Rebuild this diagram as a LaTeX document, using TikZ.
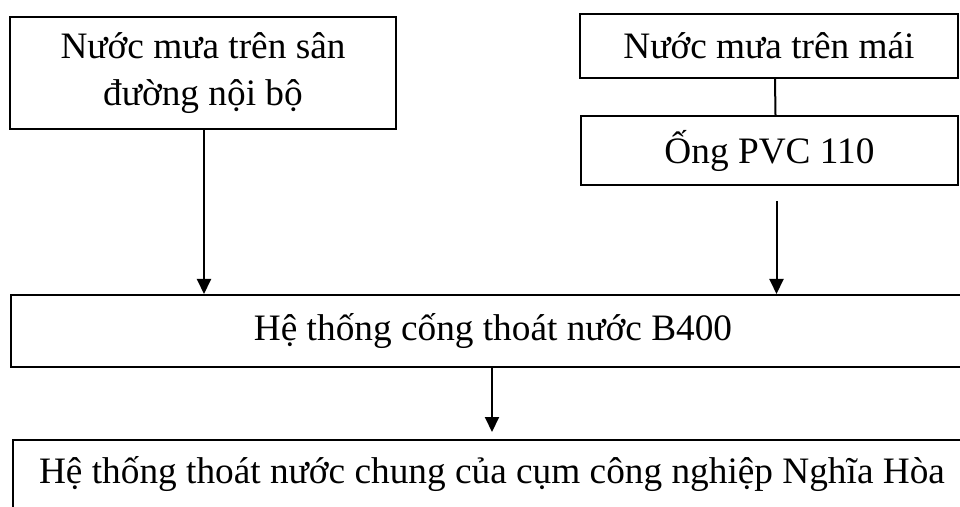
\documentclass[tikz,border=0pt]{standalone}
\usepackage{fontspec}
\setmainfont{Liberation Serif}
\usetikzlibrary{arrows.meta}

\begin{document}
\begin{tikzpicture}[x=1bp,y=-1bp,
    box/.style={draw, line width=2bp, inner sep=0pt, align=center,
                font=\fontsize{37.3bp}{47bp}\selectfont},
    flow/.style={line width=2bp, -{Triangle[length=15bp,width=14bp]}},
    link/.style={line width=2bp}]
  \useasboundingbox (0,0) rectangle (960,507);

  % sources of rainwater
  \node[box, minimum width=386bp, minimum height=112bp] (yard) at (203,73)
    {Nước mưa trên sân\\đường nội bộ};
  \node[box, minimum width=378bp, minimum height=64bp] (roof) at (769,46)
    {Nước mưa trên mái};
  \node[box, minimum width=377bp, minimum height=69bp] (pvc) at (769.5,150.5)
    {Ống PVC 110};

  % collecting culvert
  \node[box, minimum width=964bp, minimum height=72bp] (culvert) at (493,331)
    {Hệ thống cống thoát nước B400};

  % common drainage of the industrial cluster
  \node[box, minimum width=958bp, minimum height=80bp,
        text height=30bp, text depth=24bp] (common) at (492,480)
    {Hệ thống thoát nước chung của cụm công nghiệp Nghĩa Hòa};

  % connectors
  \draw[link] ([xshift=6bp]roof.south) -- ([xshift=6bp]pvc.north);
  \coordinate (pvcout) at ([xshift=7bp,yshift=-15bp]pvc.south);
  \draw[flow] (pvcout) -- (pvcout |- culvert.north);
  \draw[flow] ([xshift=1bp]yard.south) -- ([xshift=1bp]yard.south |- culvert.north);
  \draw[flow, shorten >=7bp] ([xshift=-1bp]culvert.south) -- ([xshift=-1bp]culvert.south |- common.north);
\end{tikzpicture}
\end{document}
